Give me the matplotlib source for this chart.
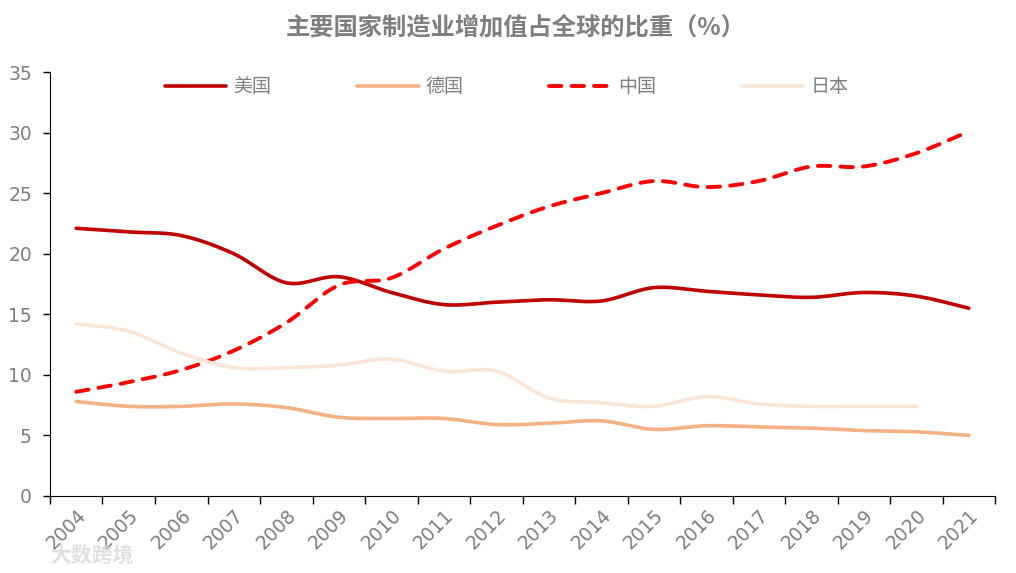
import numpy as np
import matplotlib
matplotlib.use("Agg")
import matplotlib.pyplot as plt

plt.rcParams['font.family'] = ['Noto Sans CJK SC', 'DejaVu Sans']

years = [str(y) for y in range(2004, 2022)]
usa = [22.1, 21.8, 21.5, 20.0, 17.6, 18.1, 16.8, 15.8, 16.0, 16.2, 16.1, 17.2, 16.9, 16.6, 16.4, 16.8, 16.5, 15.5]
germany = [7.8, 7.4, 7.4, 7.6, 7.3, 6.5, 6.4, 6.4, 5.9, 6.0, 6.2, 5.5, 5.8, 5.7, 5.6, 5.4, 5.3, 5.0]
china = [8.6, 9.4, 10.4, 12.0, 14.3, 17.4, 18.0, 20.4, 22.3, 23.9, 25.0, 26.0, 25.5, 26.0, 27.2, 27.2, 28.3, 30.1]
japan = [14.2, 13.6, 11.8, 10.6, 10.6, 10.8, 11.3, 10.3, 10.3, 8.1, 7.7, 7.4, 8.2, 7.6, 7.4, 7.4, 7.4]

GRAY = '#7F7F7F'


def smooth(xs, ys, n=30):
    # Excel-like smoothed line (Catmull-Rom as cubic Bezier)
    xs = np.asarray(xs, float)
    ys = np.asarray(ys, float)
    px = np.concatenate(([xs[0]], xs, [xs[-1]]))
    py = np.concatenate(([ys[0]], ys, [ys[-1]]))
    t = np.linspace(0, 1, n)[:, None]
    outx, outy = [], []
    for i in range(1, len(px) - 2):
        p0 = np.array([px[i], py[i]])
        p3 = np.array([px[i + 1], py[i + 1]])
        c1 = p0 + (p3 - np.array([px[i - 1], py[i - 1]])) / 6
        c2 = p3 - (np.array([px[i + 2], py[i + 2]]) - p0) / 6
        b = ((1 - t) ** 3) * p0 + 3 * ((1 - t) ** 2) * t * c1 + 3 * (1 - t) * t ** 2 * c2 + t ** 3 * p3
        outx.extend(b[:, 0])
        outy.extend(b[:, 1])
    return outx, outy


fig = plt.figure(figsize=(10.16, 5.73), dpi=100)
ax = fig.add_axes([0.0492, 0.1344, 0.9302, 0.7399])

pos = np.arange(len(years)) + 0.5

series = [
    ('美国', usa, '#C00000', '-', 2.6),
    ('德国', germany, '#F4B183', '-', 2.6),
    ('中国', china, '#FF0000', (0, (3.2, 2.6)), 2.8),
    ('日本', japan, '#FBE5D6', '-', 2.6),
]
for name, vals, col, ls, lw in series:
    sx, sy = smooth(pos[:len(vals)], vals)
    ax.plot(sx, sy, color=col, linestyle=ls, linewidth=lw, label=name,
            solid_capstyle='round', dash_capstyle='round')

ax.set_xlim(0, len(years))
ax.set_ylim(0, 35)
ax.set_yticks(np.arange(0, 36, 5))
ax.set_xticks(np.arange(0, len(years) + 1))
ax.set_xticklabels([])
ax.set_xticks(pos, minor=True)
ax.set_xticklabels(years, minor=True, rotation=45, ha='right', rotation_mode='anchor',
                   family=['DejaVu Sans'])
ax.tick_params(axis='x', which='major', direction='out', length=6, width=1)
ax.tick_params(axis='x', which='minor', length=0, pad=7, labelsize=13.5, labelcolor=GRAY)
ax.tick_params(axis='y', direction='out', length=5, width=1, labelsize=13.5, labelcolor=GRAY, pad=8)
for lab in ax.get_yticklabels():
    lab.set_family(['DejaVu Sans'])

ax.spines['top'].set_visible(False)
ax.spines['right'].set_visible(False)

leg = ax.legend(loc='upper center', bbox_to_anchor=(0.483, 1.03), ncol=4, frameon=False,
                fontsize=13.7, handlelength=3.25, handletextpad=0.36, columnspacing=4.5)
for txt in leg.get_texts():
    txt.set_color(GRAY)

fig.text(0.508, 0.952, '主要国家制造业增加值占全球的比重（%）', ha='center', va='center',
         fontsize=17.5, fontweight='bold', color=GRAY)
fig.text(0.049, 0.031, '大数跨境', ha='left', va='center', fontsize=15, fontweight='bold',
         color='#D9D9D9', alpha=0.8)

fig.savefig('out.png', dpi=100)
